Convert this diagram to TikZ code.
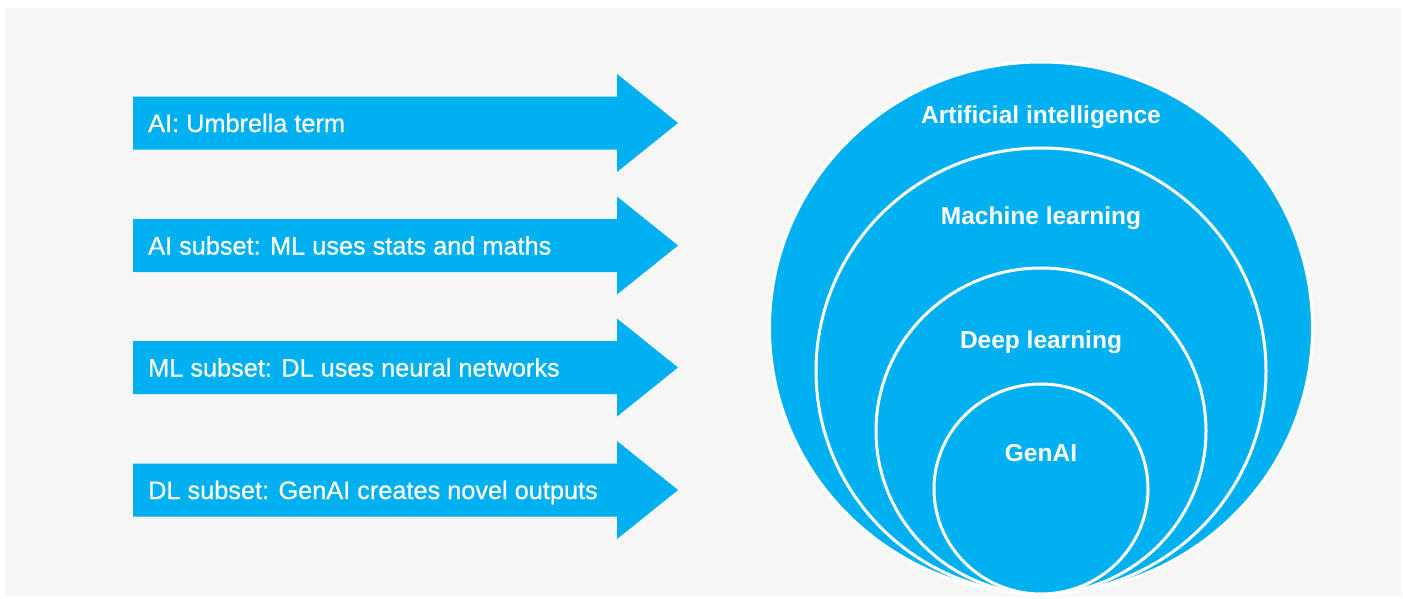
\documentclass[tikz,border=0pt]{standalone}
\usepackage{fontspec}
\setmainfont{Liberation Sans}
\newfontfamily\arrowfont[FakeBold=0.6]{Liberation Sans}
\usetikzlibrary{shapes.geometric}
\definecolor{skyblue}{HTML}{00B0F0}
\definecolor{bggray}{HTML}{F6F6F6}
\tikzset{
  arrowshape/.style={fill=skyblue, draw=none},
  arrowtext/.style={anchor=base west, inner sep=0pt, text=white, font=\arrowfont\fontsize{25.3}{29}\selectfont},
  ring/.style={shape=ellipse, fill=skyblue, draw=white, line width=3pt, inner sep=0pt},
  ringtext/.style={anchor=base, inner sep=0pt, text=white, font=\fontsize{24.5}{28}\selectfont\bfseries},
}
\begin{document}
\begin{tikzpicture}[x=1pt, y=-1pt]
\useasboundingbox (0,0) rectangle (1403,598);
\fill[white] (0,0) rectangle (1403,598);
\fill[bggray] (5,8) rectangle (1401,596);

% arrows
\foreach \cy/\nm in {123/a1, 245.5/a2, 367.5/a3, 490/a4}{
  \fill[arrowshape] (133,\cy-26.5) -- (617,\cy-26.5) -- (617,\cy-49) -- (678,\cy)
     -- (617,\cy+49) -- (617,\cy+26.5) -- (133,\cy+26.5) -- cycle;
}
\node[arrowtext] (t1) at (148,132) {AI: Umbrella term};
\node[arrowtext] (t2) at (148,254.5) {AI subset: ML uses stats and maths};
\node[arrowtext] (t3) at (148,376.5) {ML subset: DL uses neural networks};
\node[arrowtext] (t4) at (148,499) {DL subset: GenAI creates novel outputs};

% nested circles
\node[ring, minimum width=543pt, minimum height=532pt] (ai) at (1041,328) {};
\node[ring, minimum width=450pt, minimum height=446pt] (ml) at (1041,371) {};
\node[ring, minimum width=330pt, minimum height=326pt] (dl) at (1041,431) {};
\node[ring, minimum width=214pt, minimum height=210pt] (gen) at (1041,489) {};

\node[ringtext] (lai) at (1041,123) {Artificial intelligence};
\node[ringtext] (lml) at (1041,224) {Machine learning};
\node[ringtext] (ldl) at (1041,348) {Deep learning};
\node[ringtext] (lgen) at (1041,461) {GenAI};
\end{tikzpicture}
\end{document}
